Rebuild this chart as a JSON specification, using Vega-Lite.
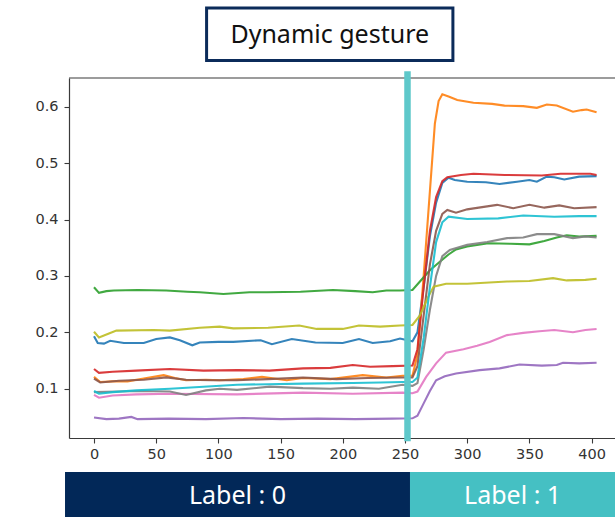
{
  "$schema": "https://vega.github.io/schema/vega-lite/v6.json",
  "width": 546,
  "height": 360,
  "autosize": {"type": "none"},
  "padding": {"left": 69, "top": 78, "right": 0, "bottom": 79},
  "background": "white",
  "config": {
    "view": {"stroke": null},
    "axis": {
      "grid": false,
      "domainColor": "#3a3a3a",
      "domainWidth": 1.2,
      "tickColor": "#3a3a3a",
      "tickSize": 5,
      "tickWidth": 1.1,
      "labelFont": "DejaVu Sans",
      "labelFontSize": 14.5,
      "labelColor": "#333333",
      "title": null
    }
  },
  "datasets": {
    "series": [
      {"s":"s0","t":0,"v":0.193},{"s":"s0","t":3,"v":0.181},{"s":"s0","t":8,"v":0.180},{"s":"s0","t":13,"v":0.185},{"s":"s0","t":24,"v":0.181},{"s":"s0","t":40,"v":0.181},{"s":"s0","t":50,"v":0.188},{"s":"s0","t":61,"v":0.191},{"s":"s0","t":69,"v":0.186},{"s":"s0","t":79,"v":0.177},{"s":"s0","t":85,"v":0.182},{"s":"s0","t":100,"v":0.183},{"s":"s0","t":112,"v":0.183},{"s":"s0","t":134,"v":0.186},{"s":"s0","t":143,"v":0.179},{"s":"s0","t":159,"v":0.188},{"s":"s0","t":178,"v":0.182},{"s":"s0","t":200,"v":0.181},{"s":"s0","t":213,"v":0.188},{"s":"s0","t":224,"v":0.181},{"s":"s0","t":238,"v":0.184},{"s":"s0","t":246,"v":0.189},{"s":"s0","t":252,"v":0.186},{"s":"s0","t":256,"v":0.184},{"s":"s0","t":260,"v":0.20},{"s":"s0","t":265,"v":0.28},{"s":"s0","t":270,"v":0.37},{"s":"s0","t":275,"v":0.43},{"s":"s0","t":280,"v":0.465},{"s":"s0","t":285,"v":0.474},{"s":"s0","t":290,"v":0.470},{"s":"s0","t":300,"v":0.467},{"s":"s0","t":315,"v":0.466},{"s":"s0","t":326,"v":0.463},{"s":"s0","t":340,"v":0.467},{"s":"s0","t":350,"v":0.470},{"s":"s0","t":356,"v":0.467},{"s":"s0","t":364,"v":0.476},{"s":"s0","t":370,"v":0.475},{"s":"s0","t":378,"v":0.471},{"s":"s0","t":390,"v":0.476},{"s":"s0","t":404,"v":0.477},
      {"s":"s1","t":0,"v":0.121},{"s":"s1","t":5,"v":0.112},{"s":"s1","t":15,"v":0.113},{"s":"s1","t":27,"v":0.113},{"s":"s1","t":40,"v":0.118},{"s":"s1","t":56,"v":0.124},{"s":"s1","t":65,"v":0.119},{"s":"s1","t":74,"v":0.115},{"s":"s1","t":90,"v":0.116},{"s":"s1","t":101,"v":0.115},{"s":"s1","t":120,"v":0.117},{"s":"s1","t":135,"v":0.121},{"s":"s1","t":155,"v":0.115},{"s":"s1","t":168,"v":0.119},{"s":"s1","t":190,"v":0.117},{"s":"s1","t":216,"v":0.124},{"s":"s1","t":235,"v":0.120},{"s":"s1","t":248,"v":0.123},{"s":"s1","t":256,"v":0.123},{"s":"s1","t":260,"v":0.16},{"s":"s1","t":265,"v":0.30},{"s":"s1","t":270,"v":0.45},{"s":"s1","t":274,"v":0.57},{"s":"s1","t":277,"v":0.61},{"s":"s1","t":280,"v":0.622},{"s":"s1","t":285,"v":0.618},{"s":"s1","t":292,"v":0.612},{"s":"s1","t":305,"v":0.607},{"s":"s1","t":320,"v":0.605},{"s":"s1","t":330,"v":0.602},{"s":"s1","t":345,"v":0.601},{"s":"s1","t":356,"v":0.598},{"s":"s1","t":364,"v":0.604},{"s":"s1","t":372,"v":0.602},{"s":"s1","t":385,"v":0.591},{"s":"s1","t":392,"v":0.594},{"s":"s1","t":396,"v":0.595},{"s":"s1","t":404,"v":0.590},
      {"s":"s2","t":0,"v":0.280},{"s":"s2","t":4,"v":0.270},{"s":"s2","t":10,"v":0.273},{"s":"s2","t":16,"v":0.274},{"s":"s2","t":35,"v":0.275},{"s":"s2","t":58,"v":0.274},{"s":"s2","t":75,"v":0.272},{"s":"s2","t":85,"v":0.271},{"s":"s2","t":104,"v":0.268},{"s":"s2","t":125,"v":0.271},{"s":"s2","t":139,"v":0.271},{"s":"s2","t":166,"v":0.272},{"s":"s2","t":192,"v":0.275},{"s":"s2","t":210,"v":0.273},{"s":"s2","t":224,"v":0.271},{"s":"s2","t":235,"v":0.274},{"s":"s2","t":246,"v":0.274},{"s":"s2","t":256,"v":0.275},{"s":"s2","t":262,"v":0.29},{"s":"s2","t":270,"v":0.31},{"s":"s2","t":278,"v":0.325},{"s":"s2","t":285,"v":0.338},{"s":"s2","t":291,"v":0.347},{"s":"s2","t":300,"v":0.352},{"s":"s2","t":317,"v":0.358},{"s":"s2","t":335,"v":0.357},{"s":"s2","t":350,"v":0.356},{"s":"s2","t":362,"v":0.362},{"s":"s2","t":372,"v":0.368},{"s":"s2","t":380,"v":0.372},{"s":"s2","t":390,"v":0.370},{"s":"s2","t":404,"v":0.371},
      {"s":"s3","t":0,"v":0.135},{"s":"s3","t":4,"v":0.128},{"s":"s3","t":15,"v":0.130},{"s":"s3","t":34,"v":0.132},{"s":"s3","t":61,"v":0.135},{"s":"s3","t":88,"v":0.132},{"s":"s3","t":115,"v":0.133},{"s":"s3","t":141,"v":0.132},{"s":"s3","t":168,"v":0.136},{"s":"s3","t":190,"v":0.137},{"s":"s3","t":208,"v":0.142},{"s":"s3","t":222,"v":0.139},{"s":"s3","t":240,"v":0.140},{"s":"s3","t":256,"v":0.141},{"s":"s3","t":260,"v":0.17},{"s":"s3","t":265,"v":0.28},{"s":"s3","t":270,"v":0.38},{"s":"s3","t":275,"v":0.44},{"s":"s3","t":280,"v":0.468},{"s":"s3","t":284,"v":0.475},{"s":"s3","t":295,"v":0.479},{"s":"s3","t":305,"v":0.481},{"s":"s3","t":330,"v":0.479},{"s":"s3","t":360,"v":0.478},{"s":"s3","t":375,"v":0.481},{"s":"s3","t":399,"v":0.481},{"s":"s3","t":404,"v":0.479},
      {"s":"s4","t":0,"v":0.049},{"s":"s4","t":10,"v":0.046},{"s":"s4","t":20,"v":0.047},{"s":"s4","t":30,"v":0.050},{"s":"s4","t":35,"v":0.046},{"s":"s4","t":60,"v":0.047},{"s":"s4","t":90,"v":0.046},{"s":"s4","t":120,"v":0.048},{"s":"s4","t":150,"v":0.046},{"s":"s4","t":180,"v":0.047},{"s":"s4","t":210,"v":0.046},{"s":"s4","t":240,"v":0.047},{"s":"s4","t":256,"v":0.0475},{"s":"s4","t":260,"v":0.052},{"s":"s4","t":265,"v":0.074},{"s":"s4","t":270,"v":0.096},{"s":"s4","t":275,"v":0.115},{"s":"s4","t":282,"v":0.122},{"s":"s4","t":291,"v":0.127},{"s":"s4","t":310,"v":0.133},{"s":"s4","t":326,"v":0.136},{"s":"s4","t":342,"v":0.143},{"s":"s4","t":360,"v":0.141},{"s":"s4","t":372,"v":0.142},{"s":"s4","t":377,"v":0.146},{"s":"s4","t":390,"v":0.145},{"s":"s4","t":404,"v":0.146},
      {"s":"s5","t":0,"v":0.118},{"s":"s5","t":5,"v":0.111},{"s":"s5","t":20,"v":0.114},{"s":"s5","t":40,"v":0.116},{"s":"s5","t":58,"v":0.120},{"s":"s5","t":74,"v":0.116},{"s":"s5","t":95,"v":0.115},{"s":"s5","t":115,"v":0.115},{"s":"s5","t":140,"v":0.117},{"s":"s5","t":168,"v":0.120},{"s":"s5","t":195,"v":0.117},{"s":"s5","t":220,"v":0.119},{"s":"s5","t":248,"v":0.120},{"s":"s5","t":256,"v":0.120},{"s":"s5","t":260,"v":0.14},{"s":"s5","t":265,"v":0.23},{"s":"s5","t":270,"v":0.32},{"s":"s5","t":275,"v":0.38},{"s":"s5","t":280,"v":0.41},{"s":"s5","t":284,"v":0.417},{"s":"s5","t":291,"v":0.412},{"s":"s5","t":300,"v":0.418},{"s":"s5","t":312,"v":0.422},{"s":"s5","t":324,"v":0.426},{"s":"s5","t":337,"v":0.420},{"s":"s5","t":350,"v":0.426},{"s":"s5","t":362,"v":0.421},{"s":"s5","t":374,"v":0.425},{"s":"s5","t":386,"v":0.420},{"s":"s5","t":404,"v":0.422},
      {"s":"s6","t":0,"v":0.089},{"s":"s6","t":4,"v":0.084},{"s":"s6","t":15,"v":0.088},{"s":"s6","t":34,"v":0.090},{"s":"s6","t":61,"v":0.091},{"s":"s6","t":115,"v":0.090},{"s":"s6","t":168,"v":0.093},{"s":"s6","t":208,"v":0.091},{"s":"s6","t":248,"v":0.093},{"s":"s6","t":256,"v":0.092},{"s":"s6","t":260,"v":0.095},{"s":"s6","t":267,"v":0.121},{"s":"s6","t":275,"v":0.145},{"s":"s6","t":283,"v":0.164},{"s":"s6","t":297,"v":0.170},{"s":"s6","t":308,"v":0.176},{"s":"s6","t":318,"v":0.183},{"s":"s6","t":332,"v":0.195},{"s":"s6","t":345,"v":0.199},{"s":"s6","t":358,"v":0.202},{"s":"s6","t":370,"v":0.204},{"s":"s6","t":385,"v":0.200},{"s":"s6","t":395,"v":0.204},{"s":"s6","t":404,"v":0.206},
      {"s":"s7","t":0,"v":0.094},{"s":"s7","t":20,"v":0.095},{"s":"s7","t":34,"v":0.096},{"s":"s7","t":61,"v":0.095},{"s":"s7","t":74,"v":0.089},{"s":"s7","t":90,"v":0.097},{"s":"s7","t":101,"v":0.100},{"s":"s7","t":115,"v":0.098},{"s":"s7","t":141,"v":0.1036},{"s":"s7","t":168,"v":0.101},{"s":"s7","t":190,"v":0.100},{"s":"s7","t":208,"v":0.102},{"s":"s7","t":229,"v":0.100},{"s":"s7","t":248,"v":0.107},{"s":"s7","t":256,"v":0.105},{"s":"s7","t":260,"v":0.11},{"s":"s7","t":265,"v":0.17},{"s":"s7","t":270,"v":0.24},{"s":"s7","t":275,"v":0.30},{"s":"s7","t":280,"v":0.335},{"s":"s7","t":286,"v":0.346},{"s":"s7","t":300,"v":0.355},{"s":"s7","t":316,"v":0.360},{"s":"s7","t":332,"v":0.367},{"s":"s7","t":345,"v":0.368},{"s":"s7","t":356,"v":0.374},{"s":"s7","t":370,"v":0.374},{"s":"s7","t":385,"v":0.367},{"s":"s7","t":395,"v":0.370},{"s":"s7","t":404,"v":0.368},
      {"s":"s8","t":0,"v":0.201},{"s":"s8","t":4,"v":0.191},{"s":"s8","t":12,"v":0.198},{"s":"s8","t":18,"v":0.203},{"s":"s8","t":48,"v":0.204},{"s":"s8","t":61,"v":0.203},{"s":"s8","t":85,"v":0.208},{"s":"s8","t":101,"v":0.210},{"s":"s8","t":112,"v":0.207},{"s":"s8","t":140,"v":0.208},{"s":"s8","t":165,"v":0.212},{"s":"s8","t":179,"v":0.206},{"s":"s8","t":200,"v":0.206},{"s":"s8","t":213,"v":0.212},{"s":"s8","t":230,"v":0.210},{"s":"s8","t":246,"v":0.212},{"s":"s8","t":256,"v":0.213},{"s":"s8","t":262,"v":0.23},{"s":"s8","t":268,"v":0.26},{"s":"s8","t":273,"v":0.281},{"s":"s8","t":283,"v":0.286},{"s":"s8","t":300,"v":0.286},{"s":"s8","t":332,"v":0.290},{"s":"s8","t":350,"v":0.291},{"s":"s8","t":369,"v":0.296},{"s":"s8","t":380,"v":0.292},{"s":"s8","t":395,"v":0.293},{"s":"s8","t":404,"v":0.295},
      {"s":"s9","t":0,"v":0.096},{"s":"s9","t":4,"v":0.091},{"s":"s9","t":15,"v":0.094},{"s":"s9","t":34,"v":0.097},{"s":"s9","t":61,"v":0.100},{"s":"s9","t":88,"v":0.1036},{"s":"s9","t":115,"v":0.107},{"s":"s9","t":140,"v":0.108},{"s":"s9","t":168,"v":0.109},{"s":"s9","t":208,"v":0.110},{"s":"s9","t":230,"v":0.111},{"s":"s9","t":248,"v":0.112},{"s":"s9","t":256,"v":0.112},{"s":"s9","t":260,"v":0.12},{"s":"s9","t":265,"v":0.19},{"s":"s9","t":270,"v":0.28},{"s":"s9","t":275,"v":0.36},{"s":"s9","t":280,"v":0.395},{"s":"s9","t":285,"v":0.405},{"s":"s9","t":300,"v":0.401},{"s":"s9","t":325,"v":0.402},{"s":"s9","t":345,"v":0.407},{"s":"s9","t":370,"v":0.405},{"s":"s9","t":390,"v":0.406},{"s":"s9","t":404,"v":0.406}
    ],
    "labels": [
      {"label": "Label : 0", "from": -23.3, "to": 254},
      {"label": "Label : 1", "from": 254, "to": 419}
    ],
    "marker": [{"t": 252}],
    "caption": [{"title": "Dynamic gesture", "from": 90.5, "to": 288.5}]
  },
  "layer": [
    {
      "data": {"name": "series"},
      "mark": {"type": "line", "strokeWidth": 2.1, "opacity": 0.9},
      "encoding": {
        "x": {"field": "t", "type": "quantitative", "scale": {"domain": [-20.1, 418.8], "nice": false, "zero": false},
              "axis": {"values": [0,50,100,150,200,250,300,350,400], "labelPadding": 4}},
        "y": {"field": "v", "type": "quantitative", "scale": {"domain": [0.0126, 0.6509], "nice": false, "zero": false},
              "axis": {"values": [0.1,0.2,0.3,0.4,0.5,0.6], "format": ".1f", "labelPadding": 6}},
        "color": {"field": "s", "type": "nominal", "legend": null,
                  "scale": {"domain": ["s0","s1","s2","s3","s4","s5","s6","s7","s8","s9"],
                            "range": ["#1f77b4","#ff7f0e","#2ca02c","#d62728","#9467bd","#8c564b","#e377c2","#7f7f7f","#bcbd22","#17becf"]}}
      }
    },
    {
      "data": {"name": "marker"},
      "mark": {"type": "rule", "color": "#3a3a3a", "strokeWidth": 1.2},
      "encoding": {"y": {"datum": 0.6509, "type": "quantitative", "scale": {"domain": [0.0126, 0.6509], "nice": false, "zero": false}}}
    },
    {
      "data": {"name": "marker"},
      "mark": {"type": "rule", "color": "#5ec8ca", "strokeWidth": 6.5, "clip": false},
      "encoding": {
        "x": {"field": "t", "type": "quantitative", "scale": {"domain": [-20.1, 418.8], "nice": false, "zero": false}},
        "y": {"datum": 0.663, "type": "quantitative", "scale": {"domain": [0.0126, 0.6509], "nice": false, "zero": false}},
        "y2": {"datum": 0.007}
      }
    },
    {
      "data": {"name": "labels"},
      "mark": {"type": "rect", "clip": false},
      "encoding": {
        "x": {"field": "from", "type": "quantitative", "scale": {"domain": [-20.1, 418.8], "nice": false, "zero": false}},
        "x2": {"field": "to"},
        "y": {"datum": -0.0477, "type": "quantitative", "scale": {"domain": [0.0126, 0.6509], "nice": false, "zero": false}},
        "y2": {"datum": -0.15},
        "fill": {"field": "label", "type": "nominal", "legend": null,
                 "scale": {"domain": ["Label : 0", "Label : 1"], "range": ["#022858", "#45c0c3"]}}
      }
    },
    {
      "data": {"name": "labels"},
      "transform": [{"calculate": "(datum.from + datum.to) / 2", "as": "mid"}],
      "mark": {"type": "text", "color": "white", "font": "Noto Sans", "fontSize": 25, "baseline": "middle", "align": "center", "clip": false},
      "encoding": {
        "x": {"field": "mid", "type": "quantitative", "scale": {"domain": [-20.1, 418.8], "nice": false, "zero": false}},
        "y": {"datum": -0.0905, "type": "quantitative", "scale": {"domain": [0.0126, 0.6509], "nice": false, "zero": false}},
        "text": {"field": "label"}
      }
    },
    {
      "data": {"name": "caption"},
      "mark": {"type": "rect", "fill": "white", "stroke": "#0b2b5a", "strokeWidth": 3, "clip": false},
      "encoding": {
        "x": {"field": "from", "type": "quantitative", "scale": {"domain": [-20.1, 418.8], "nice": false, "zero": false}},
        "x2": {"field": "to"},
        "y": {"datum": 0.775, "type": "quantitative", "scale": {"domain": [0.0126, 0.6509], "nice": false, "zero": false}},
        "y2": {"datum": 0.682}
      }
    },
    {
      "data": {"name": "caption"},
      "transform": [{"calculate": "(datum.from + datum.to) / 2", "as": "mid"}],
      "mark": {"type": "text", "color": "#111111", "font": "Noto Sans", "fontSize": 25, "baseline": "middle", "align": "center", "clip": false},
      "encoding": {
        "x": {"field": "mid", "type": "quantitative", "scale": {"domain": [-20.1, 418.8], "nice": false, "zero": false}},
        "y": {"datum": 0.728, "type": "quantitative", "scale": {"domain": [0.0126, 0.6509], "nice": false, "zero": false}},
        "text": {"field": "title"}
      }
    }
  ]
}
